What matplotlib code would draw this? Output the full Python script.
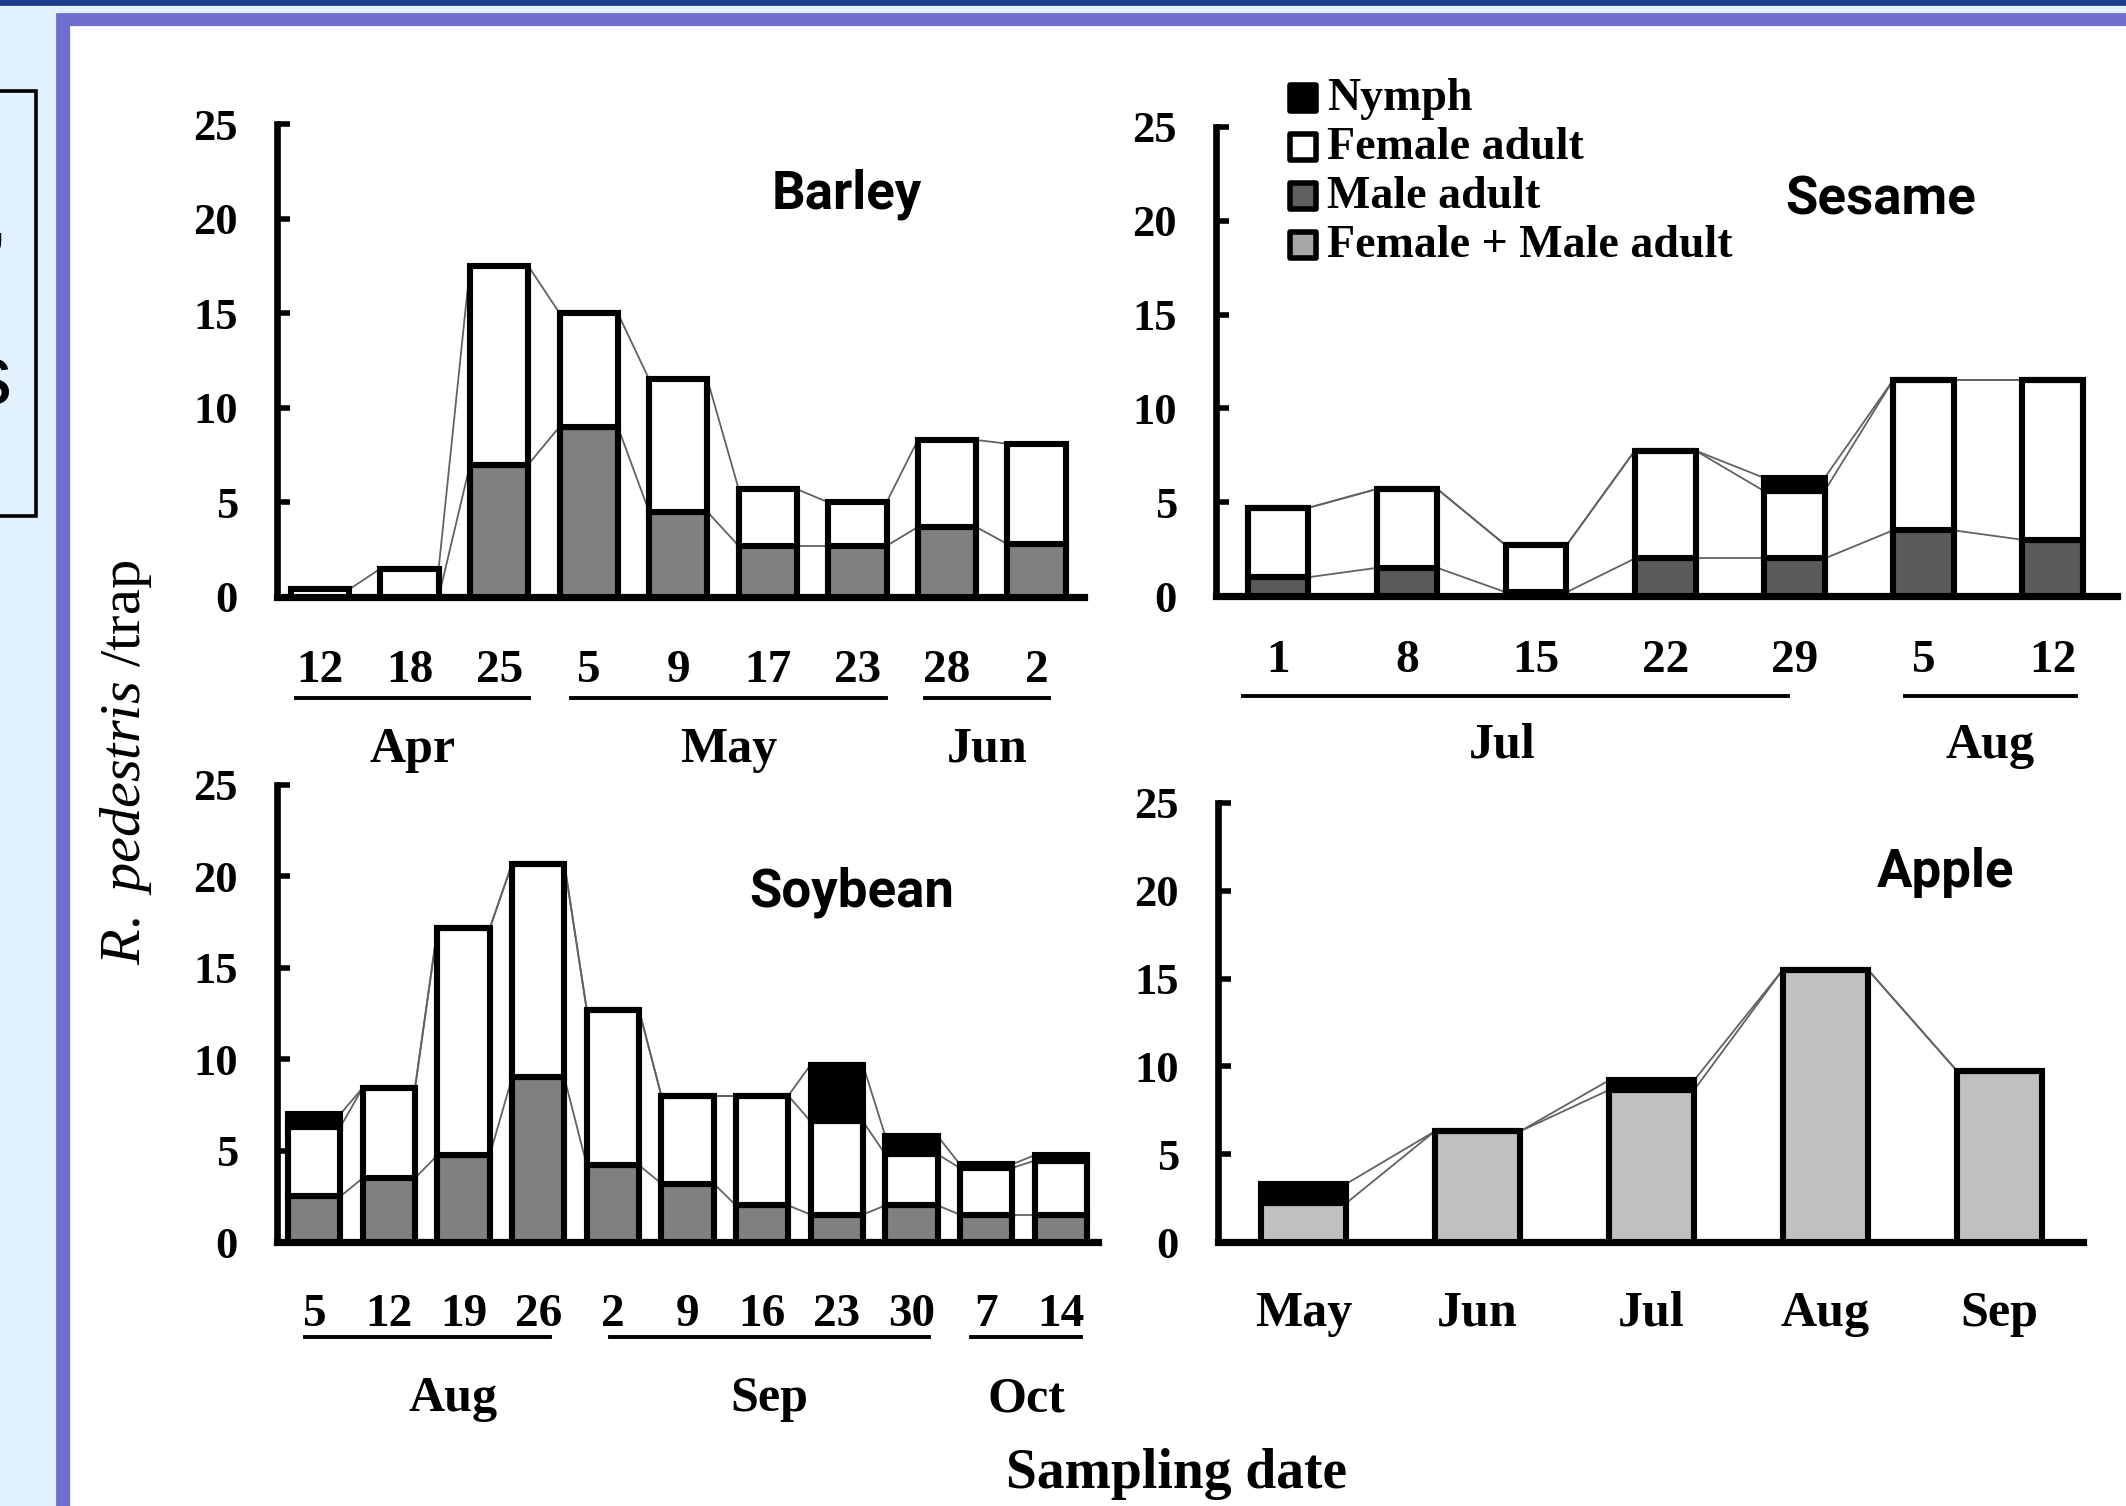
import matplotlib
matplotlib.use("Agg")
import matplotlib.pyplot as plt
from matplotlib.patches import Rectangle
from matplotlib.lines import Line2D
import matplotlib.transforms as mtransforms

# tamaño de la imagen final en pixeles
W, H = 2126, 1506
DPI = 200

# ---- datos ----
barley_dates = ["12", "18", "25", "5", "9", "17", "23", "28", "2"]
barley_male = [0, 0, 7.0, 9.0, 4.5, 2.7, 2.7, 3.7, 2.8]
barley_female = [0.4, 1.5, 10.5, 6.0, 7.0, 3.0, 2.3, 4.6, 5.3]
barley_months = [("Apr", 0, 2), ("May", 3, 6), ("Jun", 7, 8)]

sesame_dates = ["1", "8", "15", "22", "29", "5", "12"]
sesame_male = [1.0, 1.5, 0.2, 2.0, 2.0, 3.5, 3.0]
sesame_female = [3.7, 4.2, 2.5, 5.75, 3.6, 8.0, 8.5]
sesame_nymph = [0, 0, 0, 0, 0.7, 0, 0]
sesame_months = [("Jul", 0, 4), ("Aug", 5, 6)]

soybean_dates = ["5", "12", "19", "26", "2", "9", "16", "23", "30", "7", "14"]
soybean_male = [2.5, 3.5, 4.75, 9.0, 4.2, 3.2, 2.0, 1.5, 2.0, 1.5, 1.5]
soybean_female = [3.8, 4.95, 12.4, 11.7, 8.5, 4.8, 6.0, 5.1, 2.8, 2.55, 2.95]
soybean_nymph = [0.7, 0, 0, 0, 0, 0, 0, 3.1, 1.0, 0.2, 0.3]
soybean_months = [("Aug", 0, 3), ("Sep", 4, 8), ("Oct", 9, 10)]

apple_months = ["May", "Jun", "Jul", "Aug", "Sep"]
apple_adult = [2.2, 6.3, 8.65, 15.5, 9.75]
apple_nymph = [1.1, 0, 0.55, 0, 0]

legend_labels = ["Nymph", "Female adult", "Male adult", "Female + Male adult"]
legend_colors = ["black", "white", "#606060", "#A6A6A6"]

# margenes de las lineas bajo los dias (izq, der) y desplazamiento del nombre del mes
barley_pads = [(0.27, 0.33), (0.2, 0.32), (0.24, 0.14)]
sesame_pads = [(0.27, -0.05), (0.14, 0.18)]
soybean_pads = [(0.13, 0.16), (0.04, 0.24), (0.2, 0.27)]
soybean_shift = [0.35, 0, 0]

plt.rcParams['font.family'] = ['Liberation Serif', 'DejaVu Serif']
plt.rcParams['font.weight'] = 'bold'
plt.rcParams['mathtext.fontset'] = 'custom'
plt.rcParams['mathtext.it'] = 'Liberation Serif:italic:normal'
plt.rcParams['mathtext.rm'] = 'Liberation Serif:normal'

fig = plt.figure(figsize=(W / DPI, H / DPI), dpi=DPI, facecolor='#E1F1FD')


def fx(x):
    return x / W


def fy(y):
    return 1 - y / H


# fondo de la diapositiva
fig.add_artist(Rectangle((0, fy(4)), 1, 4 / H, color='#1A3E8C', transform=fig.transFigure, zorder=-10))
fig.add_artist(Rectangle((fx(57), 0), 1 - fx(57), fy(14), color='#6E6ECF', transform=fig.transFigure, zorder=-10))
fig.add_artist(Rectangle((fx(71), 0), 1 - fx(71), fy(27), color='white', transform=fig.transFigure, zorder=-9))
fig.add_artist(Rectangle((fx(-10), fy(516)), fx(46), (516 - 91) / H, fill=False, edgecolor='black',
                         lw=1.3, transform=fig.transFigure, zorder=-8))
fig.text(fx(12), fy(404), "s", family="Liberation Sans", fontweight='normal', fontsize=31,
         ha='right', va='baseline')
fig.text(fx(8), fy(242), ",", family="Liberation Sans", fontweight='normal', fontsize=31,
         ha='right', va='baseline')


def hacer_ejes(l, r, y0, y25, xlim):
    ax = fig.add_axes([fx(l), fy(y0), fx(r) - fx(l), (y0 - y25) / H])
    ax.set_facecolor('none')
    ax.set_xlim(xlim)
    ax.set_ylim(0, 25)
    ax.set_yticks(range(0, 26, 5))
    ax.set_xticks([])
    ax.spines[['top', 'right']].set_visible(False)
    ax.spines['left'].set_linewidth(2.4)
    ax.spines['bottom'].set_linewidth(2.6)
    ax.tick_params(axis='y', direction='in', length=4.5, width=2, pad=14, labelsize=16)
    return ax


def apilar(ax, capas, ancho):
    n = len(capas[0][0])
    x = list(range(n))
    base = [0] * n
    niveles = []
    for vals, col in capas:
        ax.bar(x, vals, ancho, bottom=base, color=col, edgecolor='black', linewidth=2.2, zorder=3)
        base = [b + v for b, v in zip(base, vals)]
        niveles.append(base)
    for nivel in niveles:
        for i in range(n - 1):
            ax.plot([i + ancho / 2, i + 1 - ancho / 2], [nivel[i], nivel[i + 1]],
                    color='#626262', lw=0.65, zorder=2, clip_on=False)


def etiquetas(ax, fechas, y_dia, meses, pads, y_linea, y_mes, shifts=None):
    tr = mtransforms.blended_transform_factory(ax.transData, fig.transFigure)
    for i, d in enumerate(fechas):
        ax.text(i, fy(y_dia), d, transform=tr, ha='center', va='baseline', fontsize=17)
    if shifts is None:
        shifts = [0] * len(meses)
    for (mes, a, b), (lp, rp), s in zip(meses, pads, shifts):
        x1, x2 = a - lp, b + rp
        ax.add_line(Line2D([x1, x2], [fy(y_linea)] * 2, transform=tr, color='black', lw=1.4, clip_on=False))
        ax.text((x1 + x2) / 2 + s, fy(y_mes), mes, transform=tr, ha='center', va='baseline', fontsize=18)


# Barley
ax1 = hacer_ejes(277, 1084, 597, 124, (-0.48, 8.53))
apilar(ax1, [(barley_male, '#808080'), (barley_female, 'white')], 0.65)
etiquetas(ax1, barley_dates, 682, barley_months, barley_pads, 698, 762)

# Sesame
ax2 = hacer_ejes(1216, 2117, 596, 127, (-0.48, 6.5))
apilar(ax2, [(sesame_male, '#5A5A5A'), (sesame_female, 'white'), (sesame_nymph, 'black')], 0.47)
etiquetas(ax2, sesame_dates, 672, sesame_months, sesame_pads, 696, 758, [-0.1, 0])

# Soybean
ax3 = hacer_ejes(277, 1098, 1242, 785, (-0.5, 10.5))
apilar(ax3, [(soybean_male, '#808080'), (soybean_female, 'white'), (soybean_nymph, 'black')], 0.7)
etiquetas(ax3, soybean_dates, 1326, soybean_months, soybean_pads, 1337, 1411, soybean_shift)

# Apple
ax4 = hacer_ejes(1218, 2083, 1242, 803, (-0.49, 4.48))
apilar(ax4, [(apple_adult, '#C0C0C0'), (apple_nymph, 'black')], 0.49)
tr4 = mtransforms.blended_transform_factory(ax4.transData, fig.transFigure)
for i, m in enumerate(apple_months):
    ax4.text(i, fy(1326), m, transform=tr4, ha='center', va='baseline', fontsize=18)

# titulos de cada cultivo
for nombre, x, y in [("Barley", 847, 194), ("Sesame", 1881, 200), ("Soybean", 852, 892), ("Apple", 1946, 872)]:
    fig.text(fx(x), fy(y), nombre, family="Roboto", fontweight='bold', fontsize=19, ha='center', va='center')

# leyenda
for k, (lab, col) in enumerate(zip(legend_labels, legend_colors)):
    base_y = 110 + 49 * k
    fig.add_artist(Rectangle((fx(1290), fy(base_y + 1)), 26 / W, 26 / H, facecolor=col, edgecolor='black',
                             lw=2, joinstyle='round', transform=fig.transFigure, zorder=5))
    fig.text(fx(1327), fy(base_y), lab, fontsize=16.5, ha='left', va='baseline')

fig.text(fx(126), fy(762), r'$\mathit{R.\ pedestris}$ /trap', rotation=90, ha='center', va='center',
         fontsize=21, fontweight='normal')
fig.text(fx(1177), fy(1488), "Sampling date", ha='center', va='baseline', fontsize=20)

fig.savefig("out.png", dpi=DPI, facecolor=fig.get_facecolor())
